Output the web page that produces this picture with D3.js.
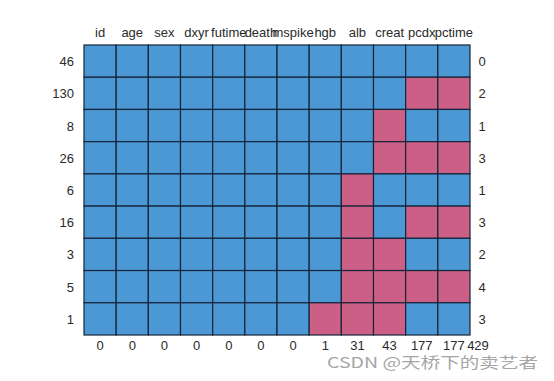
<!DOCTYPE html>
<html><head><meta charset="utf-8">
<script src="https://cdn.jsdelivr.net/npm/d3@7"></script>
<style>body{margin:0;background:#fff}svg{display:block}text{font-family:"Liberation Sans",Arial,sans-serif}</style>
</head><body><svg id="c" width="554" height="381"></svg>
<script>
const variables = ["id","age","sex","dxyr","futime","death","mspike","hgb","alb","creat","pcdx","pctime"];
const rowCounts = [46,130,8,26,6,16,3,5,1];
const patterns = [
  [1,1,1,1,1,1,1,1,1,1,1,1],
  [1,1,1,1,1,1,1,1,1,1,0,0],
  [1,1,1,1,1,1,1,1,1,0,1,1],
  [1,1,1,1,1,1,1,1,1,0,0,0],
  [1,1,1,1,1,1,1,1,0,1,1,1],
  [1,1,1,1,1,1,1,1,0,1,0,0],
  [1,1,1,1,1,1,1,1,0,0,1,1],
  [1,1,1,1,1,1,1,1,0,0,0,0],
  [1,1,1,1,1,1,1,0,0,0,1,1]
];
const rowMissing = [0,2,1,3,1,3,2,4,3];
const colMissing = [0,0,0,0,0,0,0,1,31,43,177,177];
const totalMissing = 429;

const svg = d3.select("#c");
const x = d3.scaleBand().domain(d3.range(variables.length)).range([84,470]);
const y = d3.scaleBand().domain(d3.range(rowCounts.length)).range([45,335]);
const color = d => d ? "#4C98D4" : "#CC5F85";

const cells = [];
patterns.forEach((r,i)=>r.forEach((v,j)=>cells.push({i,j,v})));
svg.selectAll("rect.cell").data(cells).join("rect")
  .attr("x",d=>x(d.j)).attr("y",d=>y(d.i))
  .attr("width",x.bandwidth()).attr("height",y.bandwidth())
  .attr("fill",d=>color(d.v)).attr("stroke","#16243a").attr("stroke-width",1.2);

const fs = 13;
svg.selectAll("text.top").data(variables).join("text")
  .attr("x",(d,j)=>x(j)+x.bandwidth()/2).attr("y",37)
  .attr("text-anchor","middle").attr("font-size",fs).attr("fill","#2a2a2a").text(d=>d);
svg.selectAll("text.left").data(rowCounts).join("text")
  .attr("x",74).attr("y",(d,i)=>y(i)+y.bandwidth()/2+5)
  .attr("text-anchor","end").attr("font-size",fs).attr("fill","#2a2a2a").text(d=>d);
svg.selectAll("text.right").data(rowMissing).join("text")
  .attr("x",482).attr("y",(d,i)=>y(i)+y.bandwidth()/2+5)
  .attr("text-anchor","middle").attr("font-size",fs).attr("fill","#2a2a2a").text(d=>d);
svg.selectAll("text.bottom").data(colMissing).join("text")
  .attr("x",(d,j)=>x(j)+x.bandwidth()/2).attr("y",350)
  .attr("text-anchor","middle").attr("font-size",fs).attr("fill","#2a2a2a").text(d=>d);
svg.append("text").attr("x",478).attr("y",350).attr("text-anchor","middle")
  .attr("font-size",fs).attr("fill","#2a2a2a").text(totalMissing);
svg.append("text").attr("x",327).attr("y",368)
  .attr("font-size",15).attr("fill","#a6a6a6")
  .attr("textLength",211).attr("lengthAdjust","spacingAndGlyphs")
  .style("font-family","'Noto Sans CJK SC','Liberation Sans',sans-serif")
  .text("CSDN @天桥下的卖艺者");
</script></body></html>
